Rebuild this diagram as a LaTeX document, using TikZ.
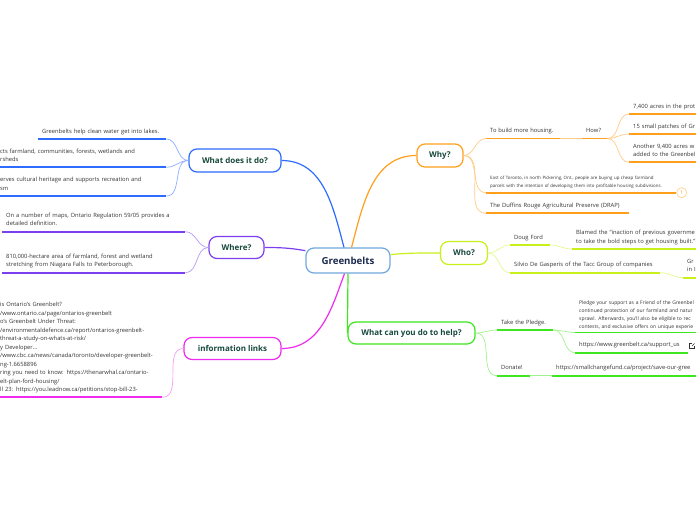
\documentclass[tikz,border=0pt]{standalone}
\usepackage{fontspec}
\setmainfont{Open Sans}
\usetikzlibrary{positioning}
\definecolor{gbline}{HTML}{6FA8DC}
\definecolor{gbtxt}{HTML}{1B2A4E}
\definecolor{topictxt}{HTML}{17493C}
\definecolor{leaftxt}{HTML}{333333}
\definecolor{blueM}{HTML}{2E6BFF}
\definecolor{blueL}{HTML}{8EAEFF}
\definecolor{purpM}{HTML}{7B3FF0}
\definecolor{purpL}{HTML}{B497F6}
\definecolor{magM}{HTML}{EE2BEE}
\definecolor{magL}{HTML}{F59CF5}
\definecolor{oraM}{HTML}{FF9F1C}
\definecolor{oraL}{HTML}{FFCB85}
\definecolor{yelM}{HTML}{C8F01A}
\definecolor{yelL}{HTML}{E3F88E}
\definecolor{grnM}{HTML}{3DE61F}
\definecolor{grnL}{HTML}{A2F190}

\begin{document}
\begin{tikzpicture}[x=1pt, y=-1pt,
    topic/.style={draw=#1, line width=1.2pt, rounded corners=8pt, fill=white, font=\fontsize{8}{9}\selectfont\bfseries, text=topictxt, minimum height=23pt, inner sep=2pt},
    leaf/.style={font=\fontsize{5.8}{8.4}\selectfont, text=leaftxt, align=left, anchor=south west, inner xsep=4pt, inner ysep=3pt, execute at end node=\strut},
    fine/.style={leaf, font=\fontsize{4.4}{7.7}\selectfont},
    ul/.style={append after command={(\tikzlastnode.south west) edge[draw=#1, line width=1.8pt] (\tikzlastnode.south east)}},
    branch/.style={draw=#1, line width=1.2pt},
    twig/.style={draw=#1, line width=0.7pt}
  ]
  \useasboundingbox (0,0) rectangle (696,520);
  \clip (0,0) rectangle (696,520);

  \node[topic=gbline, text=gbtxt, font=\fontsize{9.7}{11}\selectfont\bfseries, minimum width=84pt, minimum height=25pt] (gb) at (348,260.5) {Greenbelts};
  \node[topic=blueM, minimum width=92pt] (wdid) at (235,160.5) {What does it do?};
  \node[topic=purpM, minimum width=55pt, minimum height=22pt] (where) at (236.5,247.5) {Where?};
  \node[topic=magM, minimum width=97pt, minimum height=22pt] (info) at (232.5,348.5) {information links};
  \node[topic=oraM, minimum width=46pt] (why) at (440,155.5) {Why?};
  \node[topic=yelM, minimum width=47pt] (who) at (464,253) {Who?};
  \node[topic=grnM, minimum width=127pt, minimum height=22pt] (help) at (411.5,333) {What can you do to help?};

  \draw[branch=blueM] (gb.107) to[out=105,in=0] (wdid.east);
  \draw[branch=oraM] (gb.75) to[out=75,in=180] (why.west);
  \draw[branch=purpM] (gb.167) to[out=170,in=0] (where.east);
  \draw[branch=yelM] (gb.8) to[out=5,in=180] (who.west);
  \draw[branch=magM] (gb.255) to[out=250,in=0] (info.east);
  \draw[branch=grnM] (gb.south) -- (help.west);

  % what does it do
  \node[leaf, ul=blueM, text width=120pt] (water) at (38,139) {Greenbelts help clean water get into lakes.};
  \node[leaf, ul=blueM, text width=162pt] (protects) at (-4,167.3) {cts farmland, communities, forests, wetlands and\\rsheds};
  \node[leaf, ul=blueM, text width=162pt] (heritage) at (-4,196) {erves cultural heritage and supports recreation and\\sm};
  \draw[twig=blueL] (wdid.west) to[out=180,in=0] (water.south east);
  \draw[twig=blueL] (wdid.west) to[out=180,in=0] (protects.south east);
  \draw[twig=blueL] (wdid.west) to[out=180,in=0] (heritage.south east);

  % where
  \node[leaf, ul=purpM, text width=175pt] (maps) at (2,231.7) {On a number of maps, Ontario Regulation 59/05 provides a\\detailed definition.};
  \node[leaf, ul=purpM, text width=175pt] (hectare) at (2,272.7) {810,000-hectare area of farmland, forest and wetland\\stretching from Niagara Falls to Peterborough.};
  \draw[twig=purpL] (where.west) to[out=180,in=0] (maps.south east);
  \draw[twig=purpL] (where.west) to[out=180,in=0] (hectare.south east);

  % information links
  \node[leaf, ul=magM, text width=158pt, font=\fontsize{5.8}{8.5}\selectfont] (links) at (-4,397.3) {is Ontario's Greenbelt?\\/www.ontario.ca/page/ontarios-greenbelt\\o's Greenbelt Under Threat:\\/environmentaldefence.ca/report/ontarios-greenbelt-\\threat-a-study-on-whats-at-risk/\\y Developer...\\/www.cbc.ca/news/canada/toronto/developer-greenbelt-\\ng-1.6658896\\ring you need to know: https://thenarwhal.ca/ontario-\\elt-plan-ford-housing/\\ll 23: https://you.leadnow.ca/petitions/stop-bill-23-};
  \draw[twig=magL] (info.west) to[out=180,in=0] (links.south east);

  % why
  \node[leaf, ul=oraM, text width=66pt] (build) at (486,138.5) {To build more housing.};
  \node[leaf, ul=oraM, text width=17pt] (how) at (582,138.5) {How?};
  \node[leaf, ul=oraM, text width=90pt] (acres) at (629,114) {7,400 acres in the prot};
  \node[leaf, ul=oraM, text width=90pt] (patches) at (629,134) {15 small patches of Gr};
  \node[leaf, ul=oraM, text width=90pt] (another) at (629,162.3) {Another 9,400 acres w\\added to the Greenbel};
  \node[fine, ul=oraM, text width=182pt] (east) at (486,192.7) {East of Toronto, in north Pickering, Ont., people are buying up cheap farmland\\parcels with the intention of developing them into profitable housing subdivisions.};
  \node[circle, draw=oraL, line width=0.6pt, text=oraM, font=\fontsize{5}{6}\selectfont, minimum size=10pt, inner sep=0pt, right=0pt of east.south east, anchor=west] (note) {1};
  \node[leaf, ul=oraM, text width=135pt] (drap) at (486,213.3) {The Duffins Rouge Agricultural Preserve (DRAP)};
  \draw[twig=oraL] (why.east) to[out=0,in=180] (build.south west);
  \draw[twig=oraL] (why.east) to[out=0,in=180] (east.south west);
  \draw[twig=oraL] (why.east) to[out=0,in=180] (drap.south west);
  \draw[twig=oraL] (build.south east) -- (how.south west);
  \draw[twig=oraL] (how.south east) to[out=0,in=180] (acres.south west);
  \draw[twig=oraL] (how.south east) to[out=0,in=180] (patches.south west);
  \draw[twig=oraL] (how.south east) to[out=0,in=180] (another.south west);

  % who
  \node[leaf, ul=yelM, text width=32pt] (doug) at (510,245) {Doug Ford};
  \node[leaf, ul=yelM, text width=130pt] (blamed) at (572,249) {Blamed the “inaction of previous governme\\to take the bold steps to get housing built.”};
  \node[leaf, ul=yelM, text width=142pt] (silvio) at (510,272.7) {Silvio De Gasperis of the Tacc Group of companies};
  \node[leaf, ul=yelM, text width=40pt] (gr) at (683,277.7) {Gr\\in I};
  \draw[twig=yelL] (who.east) to[out=0,in=180] (doug.south west);
  \draw[twig=yelL] (who.east) to[out=0,in=180] (silvio.south west);
  \draw[twig=yelL] (doug.south east) to[out=0,in=180] (blamed.south west);
  \draw[twig=yelL] (silvio.south east) to[out=0,in=180] (gr.south west);

  % help
  \node[leaf, ul=grnM, text width=48pt] (pledge) at (497,330) {Take the Pledge.};
  \node[leaf, ul=grnM, text width=140pt, font=\fontsize{5}{8}\selectfont, inner ysep=1.5pt] (pledgetxt) at (575,332.5) {Pledge your support as a Friend of the Greenbel\\continued protection of our farmland and natur\\sprawl. Afterwards, you'll also be eligible to rec\\contests, and exclusive offers on unique experie};
  \node[leaf, ul=grnM, text width=105pt] (support) at (575,352.7) {https://www.greenbelt.ca/support\_us};
  \draw[leaftxt, line width=0.6pt] (692,343.5) -| (689.5,348.5) -| (694.5,346);
  \draw[leaftxt, line width=0.6pt] (692,346) -- (694.5,343.5);
  \node[leaf, ul=grnM, text width=25pt] (donate) at (497,375.7) {Donate!};
  \node[leaf, ul=grnM, text width=160pt] (fund) at (552,375.7) {https://smallchangefund.ca/project/save-our-gree};
  \draw[twig=grnL] (help.east) to[out=0,in=180] (pledge.south west);
  \draw[twig=grnL] (help.east) to[out=0,in=180] (donate.south west);
  \draw[twig=grnL] (pledge.south east) to[out=0,in=180] (pledgetxt.south west);
  \draw[twig=grnL] (pledge.south east) to[out=0,in=180] (support.south west);
  \draw[twig=grnL] (donate.south east) -- (fund.south west);
\end{tikzpicture}
\end{document}
